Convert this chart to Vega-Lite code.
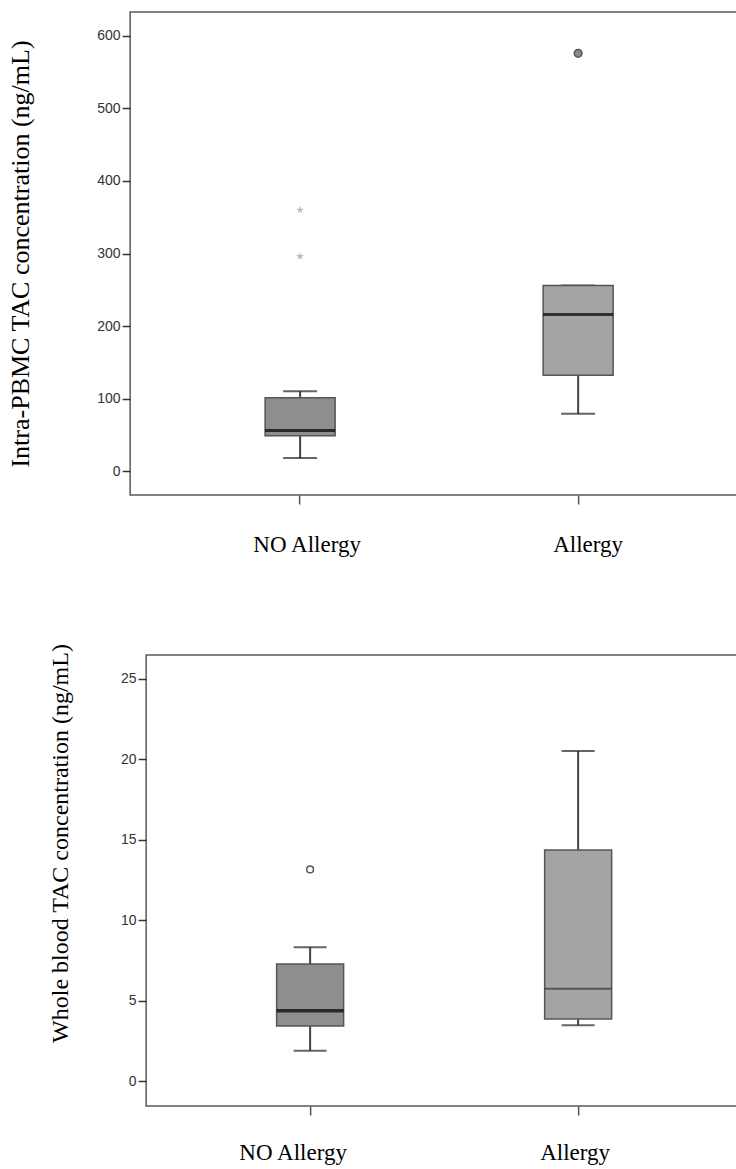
{
  "$schema": "https://vega.github.io/schema/vega-lite/v6.json",
  "background": "white",
  "autosize": {"type": "pad"},
  "padding": {"left": 7, "top": 11, "right": 0, "bottom": 0},
  "spacing": 85,
  "center": true,
  "config": {
    "view": {"stroke": "#5a5a5a", "strokeWidth": 1.5},
    "axis": {"grid": false}
  },
  "datasets": {
    "pbmc_box": [
      {"group": "NO Allergy", "lower": 18, "q1": 48.7, "median": 56, "q3": 101, "upper": 110},
      {"group": "Allergy", "lower": 79, "q1": 132, "median": 216, "q3": 256, "upper": 256}
    ],
    "pbmc_out": [
      {"group": "NO Allergy", "value": 360, "type": "extreme"},
      {"group": "NO Allergy", "value": 296, "type": "extreme"},
      {"group": "Allergy", "value": 576, "type": "outlier"}
    ],
    "wb_box": [
      {"group": "NO Allergy", "lower": 1.91, "q1": 3.44, "median": 4.39, "q3": 7.29, "upper": 8.33},
      {"group": "Allergy", "lower": 3.49, "q1": 3.88, "median": 5.76, "q3": 14.36, "upper": 20.5}
    ],
    "wb_out": [
      {"group": "NO Allergy", "value": 13.16, "type": "outlier"}
    ]
  },
  "vconcat": [
    {
      "width": 640,
      "height": 483,
      "encoding": {
        "x": {
          "field": "group", "type": "nominal", "sort": ["NO Allergy", "Allergy"], "title": null,
          "scale": {"type": "band", "paddingInner": 0.5, "paddingOuter": 0.401, "align": 0.4507},
          "axis": {
            "labelFont": "Liberation Serif", "labelFontSize": 23, "labelColor": "#000", "labelAngle": 0,
            "tickSize": 9, "tickColor": "#555", "tickWidth": 1.5, "domain": false, "labelPadding": 29,
            "labelOffset": {"condition": {"test": "datum.value === 'NO Allergy'", "value": 7}, "value": 10}
          }
        }
      },
      "layer": [
        {
          "data": {"name": "pbmc_box"},
          "mark": {"type": "rule", "color": "#444", "strokeWidth": 2},
          "encoding": {
            "y": {
              "field": "lower", "type": "quantitative", "title": "Intra-PBMC TAC concentration (ng/mL)",
              "scale": {"domain": [-33, 633], "nice": false, "zero": false},
              "axis": {
                "values": [0, 100, 200, 300, 400, 500, 600], "grid": false, "domain": false,
                "tickSize": 8, "tickColor": "#333", "tickWidth": 1.5,
                "labelFont": "Liberation Sans Narrow, Liberation Sans, Arial, sans-serif", "labelFontSize": 14, "labelColor": "#333", "labelPadding": 2,
                "titleFont": "Liberation Serif", "titleFontSize": 26, "titleFontWeight": "normal", "titleColor": "#000",
                "titlePadding": 63
              }
            },
            "y2": {"field": "upper"}
          }
        },
        {
          "data": {"name": "pbmc_box"},
          "mark": {"type": "tick", "color": "#222", "thickness": 2, "size": 34},
          "encoding": {"y": {"field": "lower", "type": "quantitative", "title": "Intra-PBMC TAC concentration (ng/mL)"}}
        },
        {
          "data": {"name": "pbmc_box"},
          "mark": {"type": "tick", "color": "#222", "thickness": 2, "size": 34},
          "encoding": {"y": {"field": "upper", "type": "quantitative", "title": "Intra-PBMC TAC concentration (ng/mL)"}}
        },
        {
          "data": {"name": "pbmc_box"},
          "mark": {"type": "bar", "size": 70, "stroke": "#555", "strokeWidth": 1.5},
          "encoding": {
            "y": {"field": "q1", "type": "quantitative", "title": "Intra-PBMC TAC concentration (ng/mL)"},
            "y2": {"field": "q3"},
            "fill": {"field": "group", "type": "nominal", "legend": null,
              "scale": {"domain": ["NO Allergy", "Allergy"], "range": ["#8e8e8e", "#a4a4a4"]}}
          }
        },
        {
          "data": {"name": "pbmc_box"},
          "mark": {"type": "tick", "color": "#000", "thickness": 3, "size": 70},
          "encoding": {"y": {"field": "median", "type": "quantitative", "title": "Intra-PBMC TAC concentration (ng/mL)"}}
        },
        {
          "data": {"name": "pbmc_out"},
          "transform": [{"filter": "datum.type === 'extreme'"}],
          "mark": {"type": "point", "shape": "M0,-1L0.2245,-0.309L0.951,-0.309L0.363,0.118L0.588,0.809L0,0.382L-0.588,0.809L-0.363,0.118L-0.951,-0.309L-0.2245,-0.309Z", "filled": true, "color": "#a0a0a0", "size": 70},
          "encoding": {"y": {"field": "value", "type": "quantitative", "title": "Intra-PBMC TAC concentration (ng/mL)"}}
        },
        {
          "data": {"name": "pbmc_out"},
          "transform": [{"filter": "datum.type === 'outlier'"}],
          "mark": {"type": "point", "shape": "circle", "filled": true, "fill": "#8a8a8a", "stroke": "#555", "strokeWidth": 1.5, "size": 60, "opacity": 1},
          "encoding": {"y": {"field": "value", "type": "quantitative", "title": "Intra-PBMC TAC concentration (ng/mL)"}}
        }
      ]
    },
    {
      "width": 608,
      "height": 451,
      "encoding": {
        "x": {
          "field": "group", "type": "nominal", "sort": ["NO Allergy", "Allergy"], "title": null,
          "scale": {"type": "band", "paddingInner": 0.5, "paddingOuter": 0.3843, "align": 0.4709},
          "axis": {
            "labelFont": "Liberation Serif", "labelFontSize": 23, "labelColor": "#000", "labelAngle": 0,
            "tickSize": 9, "tickColor": "#555", "tickWidth": 1.5, "domain": false, "labelPadding": 26,
            "labelOffset": {"condition": {"test": "datum.value === 'NO Allergy'", "value": -17}, "value": -3}
          }
        }
      },
      "layer": [
        {
          "data": {"name": "wb_box"},
          "mark": {"type": "rule", "color": "#444", "strokeWidth": 2},
          "encoding": {
            "y": {
              "field": "lower", "type": "quantitative", "title": "Whole blood TAC concentration (ng/mL)",
              "scale": {"domain": [-1.52, 26.46], "nice": false, "zero": false},
              "axis": {
                "values": [0, 5, 10, 15, 20, 25], "grid": false, "domain": false,
                "tickSize": 8, "tickColor": "#333", "tickWidth": 1.5,
                "labelFont": "Liberation Sans Narrow, Liberation Sans, Arial, sans-serif", "labelFontSize": 14, "labelColor": "#333", "labelPadding": 2,
                "titleFont": "Liberation Serif", "titleFontSize": 24, "titleFontWeight": "normal", "titleColor": "#000",
                "titlePadding": 48, "titleY": 188
              }
            },
            "y2": {"field": "upper"}
          }
        },
        {
          "data": {"name": "wb_box"},
          "mark": {"type": "tick", "color": "#222", "thickness": 2, "size": 33},
          "encoding": {"y": {"field": "lower", "type": "quantitative", "title": "Whole blood TAC concentration (ng/mL)"}}
        },
        {
          "data": {"name": "wb_box"},
          "mark": {"type": "tick", "color": "#222", "thickness": 2, "size": 33},
          "encoding": {"y": {"field": "upper", "type": "quantitative", "title": "Whole blood TAC concentration (ng/mL)"}}
        },
        {
          "data": {"name": "wb_box"},
          "mark": {"type": "bar", "size": 67, "stroke": "#555", "strokeWidth": 1.5},
          "encoding": {
            "y": {"field": "q1", "type": "quantitative", "title": "Whole blood TAC concentration (ng/mL)"},
            "y2": {"field": "q3"},
            "fill": {"field": "group", "type": "nominal", "legend": null,
              "scale": {"domain": ["NO Allergy", "Allergy"], "range": ["#8e8e8e", "#a4a4a4"]}}
          }
        },
        {
          "data": {"name": "wb_box"},
          "transform": [{"filter": "datum.group === 'NO Allergy'"}],
          "mark": {"type": "tick", "color": "#000", "thickness": 3.5, "size": 67},
          "encoding": {"y": {"field": "median", "type": "quantitative", "title": "Whole blood TAC concentration (ng/mL)"}}
        },
        {
          "data": {"name": "wb_box"},
          "transform": [{"filter": "datum.group === 'Allergy'"}],
          "mark": {"type": "tick", "color": "#333", "thickness": 2, "size": 67},
          "encoding": {"y": {"field": "median", "type": "quantitative", "title": "Whole blood TAC concentration (ng/mL)"}}
        },
        {
          "data": {"name": "wb_out"},
          "mark": {"type": "point", "shape": "circle", "filled": false, "stroke": "#555", "strokeWidth": 1.5, "size": 45, "opacity": 1},
          "encoding": {"y": {"field": "value", "type": "quantitative", "title": "Whole blood TAC concentration (ng/mL)"}}
        }
      ]
    }
  ]
}
